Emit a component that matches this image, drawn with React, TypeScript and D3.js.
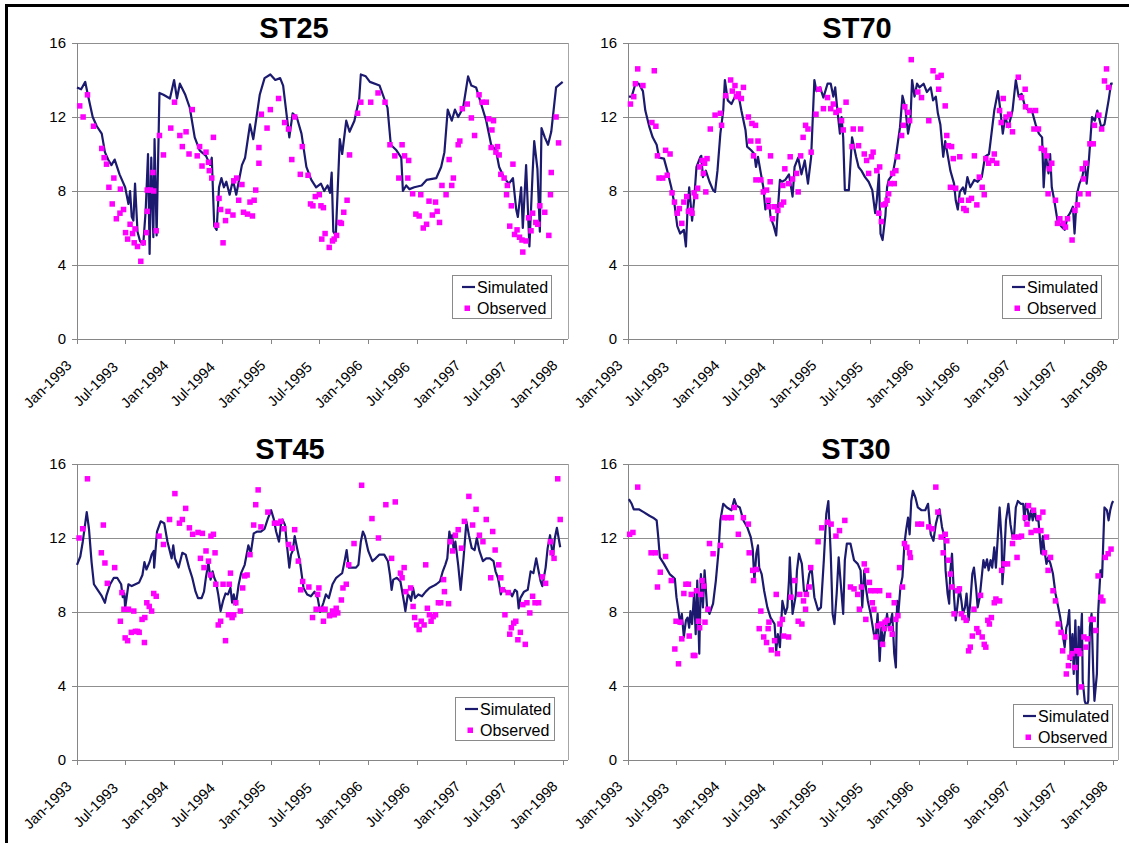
import * as d3 from "d3"

type Pt = [number, number]

const FONT = "'Liberation Sans', Arial, Helvetica, sans-serif"
const START = new Date(1993, 0, 1)
const END = new Date(1998, 0, 21)
const Y_TICKS = [0, 4, 8, 12, 16]
const SERIES = ["Simulated", "Observed"]
const SIM_COLOR = "#1b1a6f"
const OBS_COLOR = "#ff00ff"
const GRID = "#8f8f8f"
const MARK = 5.5

// [months since Jan-1993, value]
const st25Sim: Pt[] = [
  [0, 13.6], [0.5, 13.5], [1.0, 13.9], [1.3, 13.3], [2.0, 12.0], [2.5, 11.5], [3.1, 11.1], [3.5, 10.1],
  [3.9, 9.7], [4.3, 9.4], [4.7, 9.7], [5.3, 8.9], [6.0, 8.2], [6.4, 7.3], [6.6, 8.0], [6.8, 6.6],
  [7.0, 6.4], [7.2, 8.4], [7.5, 5.8], [7.8, 5.3], [8.2, 5.1], [8.5, 6.9], [8.8, 10.0], [9.0, 4.6],
  [9.2, 9.8], [9.45, 5.5], [9.6, 10.8], [9.85, 5.6], [10.2, 13.3], [10.7, 13.2], [11.5, 13.0], [12.0, 14.0],
  [12.35, 13.0], [12.7, 13.8], [13.4, 13.2], [14.0, 12.5], [14.6, 10.9], [15.2, 10.2], [16.0, 9.9], [16.5, 9.4],
  [16.7, 9.8], [17.0, 6.1], [17.3, 5.9], [17.6, 8.2], [17.9, 8.7], [18.2, 8.2], [18.5, 8.5], [18.9, 7.8],
  [19.3, 8.6], [19.7, 7.8], [20.4, 9.4], [20.8, 9.8], [21.4, 11.6], [21.8, 10.8], [22.6, 13.2], [23.2, 14.1],
  [23.9, 14.3], [24.5, 14.0], [25.1, 14.1], [25.5, 13.7], [26.3, 10.9], [26.7, 12.2], [27.2, 12.0], [27.8, 11.1],
  [28.4, 9.3], [29.0, 8.6], [29.6, 8.2], [30.2, 8.4], [30.6, 8.0], [31.0, 8.3], [31.3, 7.9], [31.5, 9.0],
  [31.7, 5.8], [32.0, 5.6], [32.5, 10.8], [32.8, 10.0], [33.3, 11.8], [33.7, 11.2], [34.3, 11.8], [34.9, 13.0],
  [35.1, 14.3], [35.7, 14.2], [36.2, 13.9], [37.4, 13.7], [38.4, 12.5], [38.8, 10.5], [39.5, 10.2], [40.1, 9.8],
  [40.3, 8.0], [40.7, 8.3], [41.1, 8.1], [41.7, 8.2], [42.6, 8.3], [43.2, 8.6], [44.4, 8.7], [45.0, 9.3],
  [45.4, 10.1], [45.8, 12.4], [46.3, 11.8], [46.7, 12.4], [47.1, 12.0], [47.7, 12.5], [48.3, 14.2], [48.7, 13.7],
  [49.3, 13.6], [50.6, 11.8], [51.2, 10.5], [51.8, 10.2], [52.2, 9.3], [52.8, 8.7], [53.4, 8.4], [53.9, 8.7],
  [54.3, 7.0], [54.5, 6.6], [54.9, 8.2], [55.1, 6.0], [55.5, 9.4], [55.9, 5.0], [56.3, 9.0], [56.5, 10.7],
  [56.9, 9.2], [57.2, 5.8], [57.4, 11.4], [57.8, 10.9], [58.2, 10.5], [58.6, 11.2], [59.2, 13.6], [60.0, 13.9],
]

const st25Obs: Pt[] = [
  [0.33, 12.6], [0.74, 12.0], [1.3, 13.2], [2.1, 11.5], [3.1, 10.3], [3.4, 9.8], [3.7, 9.45], [4.0, 8.2],
  [4.4, 7.3], [4.6, 8.7], [4.9, 6.5], [5.35, 6.8], [5.4, 8.1], [5.8, 7.0], [6.05, 5.75], [6.3, 5.4],
  [6.6, 6.2], [6.9, 5.7], [7.1, 5.2], [7.2, 5.95], [7.5, 5.0], [7.9, 4.2], [8.2, 5.2], [8.6, 5.75],
  [8.7, 6.9], [8.7, 8.05], [9.1, 8.05], [9.4, 9.0], [9.5, 8.0], [9.8, 5.85], [10.2, 11.0], [10.7, 9.95],
  [11.6, 11.4], [12.05, 12.8], [12.7, 11.0], [13.0, 10.4], [13.5, 11.2], [13.9, 10.0], [14.3, 12.4], [14.9, 9.9],
  [15.2, 10.4], [15.5, 9.35], [16.0, 10.1], [16.3, 9.55], [16.4, 9.1], [16.7, 8.7], [16.9, 10.9], [17.3, 6.15],
  [17.6, 7.6], [17.8, 7.0], [18.1, 5.2], [18.4, 6.4], [18.7, 6.9], [19.3, 6.7], [19.4, 8.55], [19.75, 8.7],
  [20.0, 7.5], [20.4, 8.35], [20.6, 6.85], [21.1, 6.75], [21.4, 7.4], [21.7, 6.65], [21.9, 7.5], [22.1, 8.05],
  [22.5, 10.35], [22.5, 9.5], [22.8, 12.15], [23.5, 11.4], [23.9, 12.4], [24.9, 13.0], [25.7, 11.7], [26.2, 11.35],
  [26.6, 9.7], [26.95, 12.0], [27.65, 8.9], [27.9, 10.4], [28.6, 8.85], [28.9, 7.3], [29.2, 7.2], [29.5, 7.7],
  [30.0, 7.8], [30.2, 7.2], [30.3, 5.4], [30.5, 7.1], [30.7, 5.7], [31.2, 4.95], [31.6, 5.3], [31.8, 5.4],
  [32.1, 5.6], [32.5, 6.3], [32.7, 6.25], [33.0, 6.85], [33.4, 7.5], [33.7, 9.95], [34.7, 12.2], [35.1, 12.8],
  [36.3, 12.8], [37.2, 13.3], [38.1, 12.8], [38.7, 10.5], [39.3, 9.9], [39.8, 8.7], [40.2, 10.5], [40.5, 9.9],
  [40.9, 8.7], [41.0, 9.65], [41.5, 7.85], [41.9, 6.75], [42.3, 6.65], [42.5, 7.8], [42.8, 6.0], [43.2, 6.2],
  [43.5, 7.45], [43.9, 6.7], [44.3, 7.4], [44.5, 6.9], [44.8, 6.3], [45.1, 8.3], [45.6, 7.8], [45.97, 9.7],
  [46.3, 8.3], [46.5, 8.7], [47.1, 10.5], [47.3, 10.7], [47.6, 12.45], [48.2, 12.7], [48.7, 11.95], [49.1, 11.0],
  [49.7, 13.2], [50.1, 12.8], [50.6, 12.8], [50.9, 11.9], [51.2, 10.35], [51.3, 11.3], [51.5, 11.8], [51.8, 10.1],
  [52.0, 10.4], [52.2, 9.95], [52.4, 8.9], [52.8, 8.7], [53.1, 7.8], [53.2, 8.3], [53.5, 6.1], [53.7, 7.2],
  [53.9, 9.45], [54.1, 5.65], [54.4, 5.9], [54.7, 5.5], [55.0, 5.35], [55.1, 4.7], [55.5, 5.3], [55.8, 6.55],
  [56.1, 5.85], [56.3, 6.8], [56.7, 6.3], [56.95, 6.2], [57.2, 7.2], [57.8, 6.85], [58.3, 5.6], [58.5, 7.8],
  [58.6, 9.0], [59.2, 12.0], [59.5, 10.6],
]

const st70Sim: Pt[] = [
  [0.1, 13.1], [0.45, 13.1], [0.9, 13.8], [1.35, 13.8], [1.9, 13.4], [2.2, 12.35], [2.7, 11.45], [3.1, 10.9],
  [3.6, 10.5], [3.9, 9.8], [4.5, 9.75], [4.9, 9.1], [5.4, 8.2], [5.8, 7.3], [6.15, 6.1], [6.5, 5.7],
  [6.95, 5.9], [7.2, 5.0], [7.4, 7.0], [7.6, 8.2], [7.95, 6.4], [8.2, 7.5], [8.5, 9.3], [9.0, 9.85],
  [9.1, 9.9], [9.3, 8.75], [9.65, 9.1], [10.1, 8.5], [10.55, 8.05], [10.8, 7.95], [11.1, 9.1], [11.45, 11.1],
  [11.8, 12.35], [12.0, 14.0], [12.35, 12.9], [12.8, 12.7], [13.25, 13.1], [13.7, 13.25], [14.1, 12.35], [14.6, 11.3],
  [14.8, 10.4], [15.3, 10.2], [15.7, 10.0], [15.9, 9.3], [16.15, 9.85], [16.5, 8.95], [16.8, 8.2], [17.05, 7.0],
  [17.5, 7.5], [17.7, 6.6], [18.1, 6.1], [18.4, 5.6], [18.6, 7.0], [18.85, 8.6], [19.1, 8.5], [19.5, 8.6],
  [19.95, 8.9], [20.4, 7.7], [20.65, 9.3], [21.1, 9.8], [21.5, 8.9], [21.9, 9.65], [22.3, 8.4], [22.7, 9.85],
  [23.1, 14.0], [23.35, 13.4], [23.8, 13.6], [24.2, 13.05], [24.7, 13.8], [25.1, 13.8], [25.45, 13.1], [25.7, 13.6],
  [26.0, 12.35], [26.3, 11.1], [26.5, 12.0], [26.7, 10.9], [26.9, 8.05], [27.4, 8.05], [27.8, 10.9], [28.3, 9.85],
  [28.6, 9.3], [28.95, 9.1], [29.4, 8.75], [29.85, 8.5], [30.3, 8.05], [30.65, 6.8], [30.85, 7.5], [31.1, 8.9],
  [31.3, 5.7], [31.55, 5.35], [31.9, 6.7], [32.1, 8.2], [32.3, 8.6], [32.8, 8.9], [33.2, 9.85], [33.7, 11.45],
  [34.0, 13.15], [34.35, 12.55], [34.7, 11.1], [35.0, 11.8], [35.2, 14.0], [35.5, 13.1], [35.8, 13.8], [36.1, 13.6],
  [36.6, 13.8], [37.0, 13.35], [37.5, 13.6], [37.8, 12.9], [38.15, 13.1], [38.4, 12.2], [38.7, 11.6], [39.05, 9.85],
  [39.3, 10.7], [39.65, 9.85], [39.95, 9.1], [40.4, 8.4], [40.6, 7.5], [40.85, 7.0], [41.1, 7.95], [41.5, 8.2],
  [41.75, 7.85], [42.05, 8.75], [42.4, 8.2], [42.9, 8.6], [43.3, 8.5], [43.8, 8.75], [44.2, 9.85], [44.7, 10.0],
  [44.9, 10.7], [45.35, 12.35], [45.8, 13.4], [46.1, 12.35], [46.4, 11.1], [46.7, 12.0], [47.1, 11.45], [47.6, 12.35],
  [48.0, 14.0], [48.35, 13.1], [48.7, 13.25], [49.15, 12.55], [49.6, 12.35], [50.05, 12.35], [50.5, 11.6], [50.9, 11.1],
  [51.3, 10.9], [51.5, 8.2], [51.75, 10.0], [52.1, 8.95], [52.3, 10.0], [52.5, 8.2], [52.8, 7.5], [53.2, 6.4],
  [53.65, 6.1], [54.1, 5.9], [54.45, 6.6], [54.75, 6.8], [55.1, 7.15], [55.3, 5.7], [55.6, 7.85], [55.9, 8.4],
  [56.25, 8.75], [56.55, 9.5], [56.8, 8.4], [57.1, 9.8], [57.45, 12.0], [57.8, 11.8], [58.1, 12.35], [58.6, 11.45],
  [59.0, 11.6], [59.5, 12.9], [59.8, 13.8], [60.0, 13.8],
]

const st70Obs: Pt[] = [
  [0.3, 12.7], [0.7, 13.1], [0.9, 13.8], [1.2, 14.6], [1.9, 13.7], [3.0, 11.7], [3.3, 14.5], [3.5, 11.5],
  [3.7, 9.9], [3.9, 8.7], [4.35, 8.7], [4.7, 10.2], [4.9, 8.85], [5.25, 10.0], [5.5, 7.9], [5.8, 7.4],
  [6.15, 6.8], [6.4, 7.05], [6.7, 6.25], [6.95, 7.4], [7.3, 7.7], [7.5, 6.9], [7.8, 6.95], [7.95, 6.8],
  [8.2, 7.9], [8.4, 7.7], [8.65, 8.15], [8.9, 9.3], [9.2, 9.65], [9.35, 8.95], [9.5, 9.5], [9.65, 7.95],
  [9.8, 9.75], [10.2, 11.35], [10.8, 12.1], [11.45, 12.2], [11.6, 11.55], [12.1, 13.15], [12.7, 14.0], [12.9, 13.4],
  [13.25, 13.7], [13.45, 13.1], [13.7, 13.25], [14.1, 13.0], [14.35, 13.6], [14.95, 12.0], [15.25, 10.7], [15.4, 11.65],
  [15.6, 9.9], [15.85, 11.55], [15.9, 8.6], [16.15, 10.7], [16.3, 10.3], [16.5, 8.6], [16.8, 7.95], [17.2, 8.05],
  [17.4, 7.5], [17.5, 7.15], [17.65, 8.5], [17.7, 9.9], [17.95, 6.5], [18.2, 7.15], [18.6, 6.95], [19.0, 7.25],
  [19.2, 8.3], [19.3, 7.4], [19.45, 9.2], [19.9, 8.4], [20.1, 9.85], [20.4, 8.65], [20.9, 8.95], [21.1, 7.95],
  [21.4, 9.9], [21.7, 10.9], [22.0, 11.55], [22.3, 11.35], [22.7, 10.1], [23.3, 12.15], [23.65, 13.5], [24.2, 12.45],
  [24.7, 13.05], [25.1, 12.45], [25.45, 12.7], [25.8, 12.25], [26.2, 12.35], [26.5, 11.8], [26.7, 11.3], [27.05, 12.8],
  [27.8, 10.4], [27.95, 11.35], [28.6, 10.45], [28.85, 11.35], [29.3, 10.0], [29.6, 9.65], [29.85, 8.95], [30.2, 9.85],
  [30.4, 10.1], [30.85, 9.1], [31.1, 6.8], [31.2, 9.3], [31.4, 6.35], [31.6, 7.25], [31.9, 7.3], [32.1, 7.5],
  [32.3, 7.85], [32.5, 8.4], [32.8, 8.95], [33.0, 8.4], [33.2, 9.1], [33.4, 9.85], [33.9, 11.0], [34.1, 11.55],
  [34.3, 12.55], [34.7, 12.25], [34.9, 11.8], [35.1, 15.1], [35.9, 13.35], [36.35, 13.05], [37.25, 11.8], [37.8, 14.5],
  [38.4, 14.15], [38.5, 13.5], [38.8, 14.25], [39.3, 12.6], [39.5, 11.0], [39.7, 10.45], [39.95, 8.2], [40.1, 10.4],
  [40.3, 9.75], [40.6, 8.15], [41.1, 9.85], [41.3, 7.5], [41.6, 7.05], [41.9, 6.95], [42.2, 7.5], [42.55, 7.6],
  [42.9, 9.9], [43.2, 7.25], [43.5, 8.75], [43.85, 8.2], [44.1, 7.8], [44.3, 9.75], [44.65, 9.5], [45.1, 9.65],
  [45.35, 10.0], [45.65, 9.5], [46.0, 12.35], [46.2, 11.7], [46.45, 13.0], [46.8, 12.0], [47.1, 11.55], [47.25, 12.15],
  [47.6, 11.2], [48.3, 14.15], [48.7, 13.05], [49.15, 13.5], [49.2, 12.55], [49.8, 12.35], [50.3, 11.35], [50.5, 12.35],
  [50.85, 11.35], [51.2, 10.3], [51.6, 10.2], [51.9, 9.9], [52.05, 7.85], [52.2, 9.2], [52.5, 9.5], [52.95, 7.5],
  [53.2, 6.25], [53.5, 6.5], [53.9, 6.25], [54.2, 6.05], [54.45, 6.5], [55.0, 5.35], [55.35, 6.95], [55.65, 7.25],
  [55.95, 7.85], [56.25, 9.2], [56.4, 8.65], [56.7, 9.5], [57.0, 7.85], [57.2, 10.55], [57.6, 10.55], [57.75, 11.55],
  [58.3, 12.1], [58.65, 11.35], [59.0, 13.95], [59.25, 14.6], [59.5, 13.6],
]

const st45Sim: Pt[] = [
  [0, 10.55], [0.4, 11.0], [0.7, 11.8], [1.2, 13.4], [1.5, 12.5], [1.85, 10.7], [2.15, 9.5], [2.6, 9.2],
  [3.05, 8.9], [3.5, 8.5], [3.7, 8.9], [4.15, 9.5], [4.6, 9.85], [5.0, 9.85], [5.5, 9.5], [5.7, 8.8],
  [5.9, 9.0], [6.0, 8.2], [6.4, 9.5], [6.8, 9.4], [7.25, 9.5], [7.7, 9.6], [8.1, 10.0], [8.35, 10.7],
  [8.6, 10.3], [9.0, 10.7], [9.25, 11.1], [9.5, 11.3], [9.55, 10.4], [9.9, 12.35], [10.35, 12.9], [10.8, 12.8],
  [11.2, 11.8], [11.7, 10.9], [11.9, 11.6], [12.1, 10.9], [12.55, 10.4], [13.0, 11.2], [13.45, 11.1], [13.9, 10.4],
  [14.3, 9.85], [14.7, 9.1], [15.0, 8.75], [15.45, 8.75], [15.75, 9.1], [16.0, 9.9], [16.3, 10.65], [16.55, 9.75],
  [16.8, 10.2], [17.0, 9.85], [17.2, 9.65], [17.5, 8.95], [17.8, 8.05], [18.1, 8.6], [18.4, 9.0], [18.7, 8.95],
  [19.0, 9.3], [19.2, 8.5], [19.4, 8.95], [19.65, 8.4], [20.0, 9.5], [20.3, 10.1], [20.75, 10.55], [21.2, 11.6],
  [21.5, 11.2], [21.85, 12.25], [22.3, 12.35], [22.75, 12.35], [23.2, 12.5], [23.6, 13.05], [24.0, 13.5], [24.3, 13.05],
  [24.6, 12.35], [24.95, 11.8], [25.2, 12.7], [25.4, 13.0], [25.75, 12.7], [26.05, 11.45], [26.3, 10.4], [26.5, 11.1],
  [26.7, 11.3], [26.95, 12.1], [27.25, 11.45], [27.6, 10.75], [28.05, 9.3], [28.5, 8.95], [28.95, 8.85], [29.4, 9.1],
  [29.8, 8.75], [30.1, 8.0], [30.5, 8.5], [30.8, 8.95], [31.15, 8.75], [31.6, 9.5], [32.05, 9.85], [32.5, 10.0],
  [32.8, 10.1], [33.1, 10.75], [33.35, 11.35], [33.6, 10.4], [34.0, 10.4], [34.5, 10.4], [34.8, 10.55], [35.1, 11.8],
  [35.35, 12.35], [35.6, 12.1], [36.0, 11.3], [36.5, 10.75], [36.9, 10.9], [37.35, 11.1], [38.0, 11.1], [38.45, 10.75],
  [38.7, 10.0], [38.9, 9.2], [39.1, 9.75], [39.55, 9.85], [40.0, 9.65], [40.45, 8.5], [40.6, 8.05], [40.9, 8.95],
  [41.1, 8.85], [41.3, 8.6], [41.55, 9.3], [41.8, 8.75], [42.2, 8.95], [42.65, 8.85], [43.1, 9.1], [43.55, 9.3],
  [44.0, 9.4], [44.4, 9.5], [44.85, 9.65], [45.2, 10.2], [45.5, 10.55], [45.75, 10.9], [46.0, 12.35], [46.2, 11.8],
  [46.35, 12.15], [46.55, 11.3], [46.75, 11.8], [47.1, 10.55], [47.4, 9.2], [47.75, 10.9], [48.1, 12.9], [48.4, 12.15],
  [48.75, 11.45], [49.1, 11.35], [49.4, 12.0], [49.75, 11.3], [50.2, 10.75], [50.6, 10.9], [51.05, 10.9], [51.5, 10.75],
  [51.75, 10.2], [52.05, 9.85], [52.2, 9.5], [52.4, 8.95], [52.6, 9.3], [53.05, 9.1], [53.5, 9.1], [53.8, 8.85],
  [54.15, 9.2], [54.4, 9.1], [54.6, 8.2], [54.8, 8.75], [55.25, 9.1], [55.7, 9.2], [56.05, 10.2], [56.4, 10.1],
  [56.75, 10.9], [57.05, 10.2], [57.3, 9.65], [57.5, 9.4], [57.7, 9.9], [57.9, 10.4], [58.15, 11.45], [58.45, 12.15],
  [58.8, 11.0], [59.05, 12.0], [59.3, 12.55], [59.7, 11.5],
]

const st45Obs: Pt[] = [
  [0.25, 12.0], [0.7, 12.5], [1.3, 15.2], [3.05, 11.2], [3.3, 12.7], [3.5, 10.65], [3.8, 9.55], [4.7, 10.4],
  [5.4, 7.5], [5.6, 9.05], [5.85, 8.15], [6.0, 6.6], [6.3, 6.45], [6.4, 8.15], [6.75, 6.9], [7.05, 8.05],
  [7.25, 6.95], [7.5, 6.95], [7.7, 6.9], [8.05, 7.6], [8.35, 6.35], [8.4, 7.7], [8.65, 8.5], [8.95, 8.3],
  [9.25, 8.05], [9.5, 9.0], [9.8, 8.85], [10.15, 12.1], [10.7, 11.65], [11.45, 13.0], [12.1, 14.4], [12.65, 12.8],
  [13.0, 13.0], [13.45, 13.6], [13.95, 12.55], [14.35, 12.2], [15.0, 12.3], [15.3, 10.9], [15.55, 12.25], [15.75, 10.4],
  [16.0, 11.3], [16.3, 10.75], [16.55, 10.0], [16.6, 12.1], [16.9, 12.2], [17.1, 11.2], [17.2, 9.5], [17.5, 7.3],
  [17.8, 7.5], [18.1, 9.5], [18.4, 6.45], [18.75, 7.85], [18.85, 9.5], [19.0, 10.1], [19.2, 7.7], [19.4, 7.85],
  [19.65, 8.5], [20.2, 8.05], [20.5, 9.3], [20.75, 9.95], [21.05, 10.0], [21.4, 11.1], [21.85, 12.7], [22.1, 13.8],
  [22.4, 14.6], [22.75, 12.6], [23.6, 13.4], [24.4, 12.8], [24.75, 12.8], [25.2, 12.9], [25.6, 12.5], [26.2, 11.65],
  [26.65, 11.45], [26.95, 12.45], [27.4, 10.75], [27.7, 9.2], [27.95, 9.65], [28.7, 9.35], [29.15, 7.7], [29.6, 8.15],
  [29.8, 8.95], [29.95, 9.3], [30.3, 8.15], [30.5, 7.5], [30.7, 8.15], [31.25, 7.8], [31.6, 8.05], [31.8, 7.85],
  [32.05, 8.2], [32.25, 7.95], [32.7, 8.65], [32.9, 9.3], [33.3, 9.5], [33.6, 10.55], [34.25, 11.7], [35.2, 14.85],
  [36.45, 13.05], [37.25, 12.0], [38.2, 13.8], [38.9, 10.9], [39.35, 13.95], [40.0, 10.1], [40.2, 9.85], [40.45, 10.4],
  [40.65, 9.1], [41.25, 9.3], [41.55, 8.3], [41.75, 7.7], [42.0, 7.3], [42.3, 7.05], [42.55, 7.5], [42.9, 7.3],
  [43.1, 10.55], [43.3, 8.2], [43.55, 7.85], [43.75, 7.5], [44.0, 7.75], [44.3, 7.85], [44.65, 8.5], [44.95, 8.5],
  [45.3, 9.75], [45.4, 9.1], [45.9, 8.45], [46.1, 11.8], [46.4, 11.3], [46.75, 12.15], [47.1, 12.45], [47.5, 11.45],
  [47.85, 12.9], [48.4, 14.25], [48.85, 12.7], [49.3, 13.55], [49.75, 12.15], [50.2, 11.8], [50.6, 13.0], [51.15, 9.85],
  [51.4, 12.35], [51.7, 11.35], [52.15, 10.55], [52.4, 9.85], [52.6, 9.2], [52.9, 7.85], [53.3, 9.05], [53.5, 6.8],
  [53.7, 7.15], [54.0, 7.4], [54.25, 7.5], [54.5, 6.5], [54.8, 6.9], [55.1, 8.4], [55.4, 6.25], [55.6, 8.5],
  [55.95, 7.95], [56.3, 8.85], [56.6, 8.5], [57.05, 8.5], [57.5, 9.9], [57.9, 9.55], [58.5, 11.8], [58.7, 11.2],
  [58.95, 10.9], [59.4, 15.2], [59.7, 13.0],
]

const st30Sim: Pt[] = [
  [0.1, 14.1], [0.45, 13.85], [0.7, 13.55], [1.35, 13.55], [2.0, 13.4], [2.7, 13.2], [3.15, 13.1], [3.6, 12.95],
  [3.8, 12.05], [4.0, 10.95], [4.5, 10.6], [5.2, 10.05], [5.6, 9.9], [5.85, 9.8], [6.05, 8.8], [6.3, 8.05],
  [6.5, 7.35], [6.7, 7.9], [6.95, 6.65], [7.2, 7.55], [7.4, 7.7], [7.6, 7.15], [7.75, 8.05], [7.95, 7.35],
  [8.2, 9.0], [8.4, 6.8], [8.6, 9.7], [8.85, 5.75], [9.05, 10.05], [9.3, 8.25], [9.5, 10.25], [9.8, 8.25],
  [10.1, 7.9], [10.55, 8.45], [10.9, 9.7], [11.2, 11.15], [11.45, 12.95], [11.8, 13.85], [12.25, 13.65], [12.8, 13.5],
  [13.15, 14.1], [13.45, 13.75], [13.9, 13.65], [14.35, 12.95], [14.8, 12.6], [15.25, 12.05], [15.5, 11.4], [15.7, 9.7],
  [15.95, 11.15], [16.15, 11.6], [16.3, 10.4], [16.6, 10.05], [16.9, 9.15], [17.3, 8.25], [17.7, 7.7], [18.2, 7.35],
  [18.4, 5.9], [18.6, 6.8], [18.85, 6.1], [19.15, 8.6], [19.5, 7.9], [19.75, 8.25], [19.95, 9.7], [20.05, 10.95],
  [20.4, 7.9], [20.8, 8.9], [20.95, 10.25], [21.2, 11.15], [21.55, 10.6], [21.8, 9.15], [22.1, 9.0], [22.45, 10.05],
  [22.75, 10.4], [23.1, 8.8], [23.55, 8.1], [23.9, 8.25], [24.25, 10.8], [24.55, 13.3], [24.8, 14.0], [25.1, 11.15],
  [25.35, 7.9], [25.6, 7.35], [25.9, 9.0], [26.15, 10.95], [26.5, 9.0], [26.7, 7.9], [26.9, 10.8], [27.15, 11.7],
  [27.6, 11.7], [28.05, 10.8], [28.5, 10.6], [28.85, 10.25], [29.05, 8.25], [29.3, 10.25], [29.5, 9.35], [29.75, 8.6],
  [30.1, 7.9], [30.3, 7.35], [30.5, 6.8], [30.75, 6.8], [30.95, 7.9], [31.2, 5.35], [31.4, 7.15], [31.65, 6.25],
  [31.85, 7.0], [32.1, 7.9], [32.3, 7.15], [32.55, 7.5], [32.75, 7.9], [33.0, 5.75], [33.2, 5.0], [33.35, 8.6],
  [33.5, 7.9], [33.75, 9.35], [34.0, 9.9], [34.25, 11.7], [34.45, 12.4], [34.7, 13.1], [34.9, 12.2], [35.1, 14.0],
  [35.3, 14.55], [35.6, 14.2], [35.9, 13.65], [36.35, 13.5], [36.8, 13.5], [37.15, 13.85], [37.5, 12.2], [37.85, 11.85],
  [38.15, 12.75], [38.6, 13.55], [38.9, 12.6], [39.2, 12.05], [39.35, 10.25], [39.6, 9.0], [39.8, 8.45], [39.95, 10.25],
  [40.15, 11.15], [40.4, 8.8], [40.6, 7.55], [40.85, 8.5], [41.05, 9.35], [41.3, 8.6], [41.5, 7.9], [41.75, 8.25],
  [41.95, 9.0], [42.2, 7.55], [42.4, 8.5], [42.65, 10.05], [42.85, 10.4], [43.1, 9.35], [43.3, 8.25], [43.55, 8.8],
  [43.75, 9.7], [44.0, 10.8], [44.2, 10.4], [44.45, 10.85], [44.65, 10.25], [44.9, 10.8], [45.1, 10.4], [45.35, 11.5],
  [45.55, 10.4], [45.8, 12.2], [46.0, 13.65], [46.25, 11.85], [46.35, 9.5], [46.55, 10.8], [46.8, 12.95], [47.1, 13.85],
  [47.35, 12.75], [47.6, 12.05], [47.8, 12.2], [48.0, 13.65], [48.25, 14.0], [48.6, 13.85], [48.9, 13.85], [49.05, 12.95],
  [49.25, 13.85], [49.5, 13.5], [49.7, 12.95], [49.95, 13.5], [50.15, 12.95], [50.4, 13.5], [50.6, 12.95], [50.85, 12.95],
  [51.05, 11.85], [51.2, 11.15], [51.4, 12.1], [51.6, 11.3], [51.85, 10.6], [52.05, 10.95], [52.35, 10.6], [52.65, 10.05],
  [52.95, 9.0], [53.3, 8.25], [53.55, 7.7], [53.85, 6.8], [54.1, 6.1], [54.3, 7.15], [54.45, 7.35], [54.65, 8.1],
  [54.85, 5.4], [55.05, 6.8], [55.2, 4.65], [55.4, 7.55], [55.65, 3.55], [55.8, 7.2], [55.95, 5.75], [56.2, 7.9],
  [56.3, 4.3], [56.55, 3.2], [56.8, 2.9], [57.0, 3.2], [57.2, 7.2], [57.4, 7.9], [57.6, 4.8], [57.75, 3.2],
  [58.05, 4.65], [58.2, 7.9], [58.5, 10.25], [58.7, 9.9], [58.9, 12.4], [59.0, 13.65], [59.3, 13.5], [59.5, 12.95],
  [59.7, 13.5], [59.9, 13.85], [60.05, 14.0],
]

const st30Obs: Pt[] = [
  [0.2, 12.2], [0.6, 12.3], [1.2, 14.75], [2.9, 11.2], [3.45, 11.2], [3.7, 9.35], [4.05, 10.15], [4.7, 11.0],
  [5.4, 9.7], [5.85, 6.0], [6.0, 7.5], [6.3, 5.2], [6.5, 7.45], [6.7, 6.55], [6.95, 9.0], [7.2, 9.5],
  [7.5, 9.5], [7.6, 6.7], [7.85, 8.95], [8.1, 5.65], [8.3, 5.65], [8.5, 9.15], [8.75, 7.5], [8.9, 7.15],
  [9.05, 8.95], [9.2, 9.7], [9.4, 9.4], [9.55, 7.45], [9.9, 8.15], [10.1, 11.7], [10.55, 11.15], [11.45, 11.6],
  [11.9, 13.1], [12.35, 13.1], [12.8, 13.1], [13.15, 13.65], [13.7, 12.2], [14.35, 13.1], [14.95, 12.75], [15.05, 11.2],
  [15.5, 10.25], [15.6, 9.7], [15.95, 10.3], [16.3, 7.1], [16.5, 8.05], [16.85, 6.65], [17.2, 6.35], [17.4, 7.1],
  [17.5, 7.45], [17.8, 5.95], [18.2, 6.45], [18.4, 8.95], [18.55, 5.75], [18.85, 7.35], [19.15, 7.6], [19.3, 6.7],
  [19.9, 6.65], [20.2, 8.8], [20.65, 9.7], [21.1, 7.5], [21.3, 8.95], [21.55, 7.35], [21.75, 8.6], [22.0, 8.15],
  [22.1, 8.95], [22.45, 9.35], [22.65, 10.4], [23.55, 11.8], [24.0, 12.55], [24.7, 12.85], [25.15, 12.75], [25.8, 12.1],
  [26.25, 12.4], [26.9, 12.95], [27.6, 9.35], [28.05, 9.25], [28.5, 8.95], [28.7, 8.15], [28.95, 9.35], [29.3, 10.6],
  [29.5, 7.6], [29.6, 10.25], [29.95, 9.6], [30.1, 9.15], [30.3, 8.5], [30.5, 8.15], [30.65, 9.15], [30.75, 6.65],
  [30.95, 7.25], [31.2, 9.15], [31.4, 7.35], [31.55, 6.25], [31.75, 7.1], [31.85, 7.45], [32.1, 7.55], [32.3, 8.9],
  [32.55, 7.1], [32.75, 6.8], [33.0, 8.5], [33.2, 7.6], [33.45, 7.8], [33.65, 10.4], [34.0, 9.35], [34.25, 11.7],
  [34.55, 11.5], [34.9, 11.2], [35.0, 10.95], [35.9, 12.75], [36.35, 12.75], [37.25, 12.6], [37.7, 12.5], [38.15, 14.75],
  [38.4, 13.4], [38.8, 12.05], [39.05, 11.2], [39.3, 12.2], [39.5, 11.85], [39.7, 10.8], [39.95, 10.05], [40.15, 9.35],
  [40.4, 7.9], [40.85, 9.15], [41.05, 9.25], [41.3, 7.9], [41.6, 7.7], [41.9, 7.55], [42.2, 5.9], [42.4, 6.1],
  [42.65, 6.7], [42.85, 8.15], [43.2, 7.1], [43.4, 6.9], [43.65, 8.9], [43.85, 6.65], [44.1, 6.25], [44.3, 6.1],
  [44.55, 7.55], [44.75, 7.35], [45.0, 7.7], [45.35, 8.5], [45.55, 8.7], [46.0, 8.6], [46.25, 10.25], [46.55, 10.6],
  [47.0, 10.6], [47.6, 11.7], [47.8, 12.05], [48.15, 10.95], [48.35, 12.05], [48.7, 12.1], [49.15, 13.1], [49.4, 12.75],
  [49.6, 13.75], [49.95, 12.3], [50.25, 13.5], [50.55, 12.4], [50.9, 13.1], [51.15, 12.4], [51.4, 13.4], [51.6, 11.2],
  [51.85, 12.05], [52.05, 10.25], [52.35, 10.95], [52.65, 9.15], [52.95, 8.6], [53.3, 7.35], [53.65, 6.9], [53.85, 5.9],
  [54.1, 6.65], [54.3, 4.65], [54.55, 5.1], [54.75, 5.55], [55.0, 5.75], [55.35, 5.0], [55.55, 5.9], [55.8, 5.9],
  [55.95, 5.75], [56.1, 3.95], [56.45, 6.65], [56.7, 6.1], [56.9, 6.55], [57.35, 7.6], [57.6, 7.6], [57.9, 7.0],
  [58.2, 9.95], [58.55, 8.8], [58.8, 8.6], [59.1, 10.95], [59.45, 11.15], [59.8, 11.4],
]

interface PanelSpec {
  title: string
  sim: Pt[]
  obs: Pt[]
  left: number
  right: number
  top: number
  bottom: number
  titleX: number
  legendX: number
  legendY: number
}

const panels: PanelSpec[] = [
  { title: "ST25", sim: st25Sim, obs: st25Obs, left: 77, right: 568, top: 43, bottom: 339, titleX: 294, legendX: 452, legendY: 275 },
  { title: "ST70", sim: st70Sim, obs: st70Obs, left: 628, right: 1118, top: 43, bottom: 339, titleX: 857, legendX: 1002, legendY: 275 },
  { title: "ST45", sim: st45Sim, obs: st45Obs, left: 77, right: 568, top: 464, bottom: 760, titleX: 290, legendX: 455, legendY: 697 },
  { title: "ST30", sim: st30Sim, obs: st30Obs, left: 628, right: 1118, top: 464, bottom: 760, titleX: 856, legendX: 1013, legendY: 704 },
]

// decimal months since Jan-1993 -> Date
function toDate(m: number) {
  const whole = Math.floor(m)
  const a = d3.timeMonth.offset(START, whole)
  const b = d3.timeMonth.offset(START, whole + 1)
  return new Date(a.getTime() + (m - whole) * (b.getTime() - a.getTime()))
}

const fmt = d3.timeFormat("%b-%Y")

function Panel({ p }: { p: PanelSpec }) {
  const x = d3.scaleTime().domain([START, END]).range([p.left, p.right])
  const y = d3.scaleLinear().domain([0, 16]).range([p.bottom, p.top])
  const line = d3
    .line<Pt>()
    .x((d) => x(toDate(d[0])))
    .y((d) => y(d[1]))
  const xTicks = x.ticks(d3.timeMonth.every(6)!)
  const lx = p.legendX
  const ly = p.legendY

  return (
    <g>
      {Y_TICKS.filter((t) => t > 0).map((t) => (
        <line key={t} x1={p.left} x2={p.right} y1={Math.round(y(t)) + 0.5} y2={Math.round(y(t)) + 0.5} stroke={GRID} />
      ))}
      <line x1={p.right + 0.5} x2={p.right + 0.5} y1={p.top} y2={p.bottom} stroke="#a6a6a6" />
      <line x1={p.left + 0.5} x2={p.left + 0.5} y1={p.top} y2={p.bottom + 0.5} stroke="#868686" />
      <line x1={p.left} x2={p.right} y1={p.bottom + 0.5} y2={p.bottom + 0.5} stroke="#868686" />

      {Y_TICKS.map((t) => (
        <g key={t}>
          <line x1={p.left - 5} x2={p.left} y1={Math.round(y(t)) + 0.5} y2={Math.round(y(t)) + 0.5} stroke="#868686" />
          <text x={p.left - 11} y={y(t)} dy="0.36em" textAnchor="end" fontSize={15} fill="#000">
            {t}
          </text>
        </g>
      ))}

      {xTicks.map((t) => {
        const tx = Math.round(x(t)) + 0.5
        return (
          <g key={t.getTime()}>
            <line x1={tx} x2={tx} y1={p.bottom} y2={p.bottom + 5} stroke="#868686" />
            <text
              transform={`translate(${tx - 30},${p.bottom + 45}) rotate(-45)`}
              dy="0.36em"
              textAnchor="middle"
              fontSize={14.5}
              fill="#000"
            >
              {fmt(t)}
            </text>
          </g>
        )
      })}

      <path d={line(p.sim) ?? ""} fill="none" stroke={SIM_COLOR} strokeWidth={2.2} strokeLinejoin="round" />
      {p.obs.map((d, i) => (
        <rect
          key={i}
          x={x(toDate(d[0])) - MARK / 2}
          y={y(d[1]) - MARK / 2}
          width={MARK}
          height={MARK}
          fill={OBS_COLOR}
        />
      ))}

      <text x={p.titleX} y={p.top - 5} textAnchor="middle" fontSize={29} fontWeight="bold" fill="#000">
        {p.title}
      </text>

      <rect x={lx + 0.5} y={ly + 0.5} width={99} height={43} fill="#fff" stroke="#8a8a8a" />
      <line x1={lx + 10} x2={lx + 23} y1={ly + 12} y2={ly + 12} stroke={SIM_COLOR} strokeWidth={2.2} />
      <text x={lx + 25} y={ly + 12} dy="0.36em" fontSize={16} fill="#000">
        {SERIES[0]}
      </text>
      <rect x={lx + 12.5} y={ly + 30.5} width={MARK} height={MARK} fill={OBS_COLOR} />
      <text x={lx + 25} y={ly + 33} dy="0.36em" fontSize={16} fill="#000">
        {SERIES[1]}
      </text>
    </g>
  )
}

export default function App() {
  return (
    <svg
      width={1129}
      height={843}
      style={{ position: "absolute", left: 0, top: 0, display: "block" }}
      fontFamily={FONT}
    >
      <rect width={1129} height={843} fill="#fff" />
      <path d="M6.5,843V5.5H1129" fill="none" stroke="#000" strokeWidth={3} />
      {panels.map((p) => (
        <Panel key={p.title} p={p} />
      ))}
    </svg>
  )
}
